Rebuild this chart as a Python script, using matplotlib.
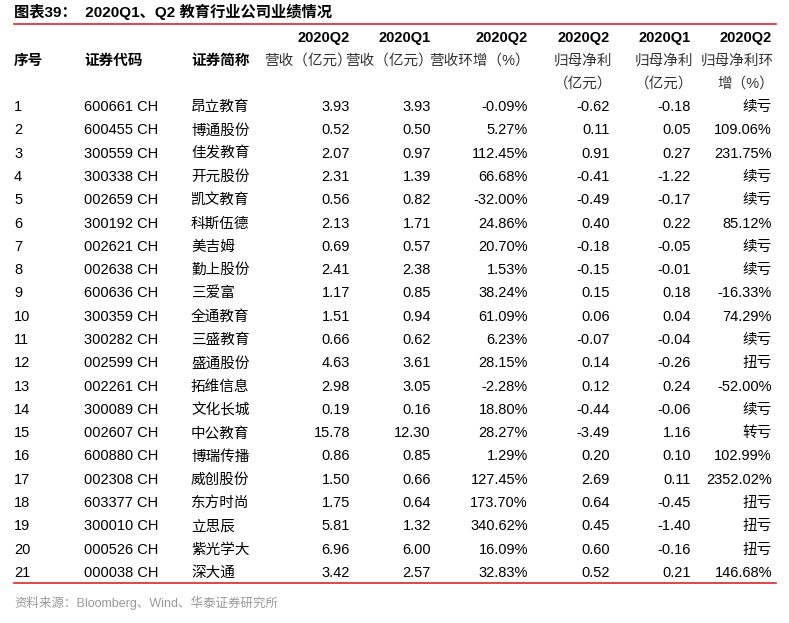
import matplotlib
matplotlib.use("Agg")
import matplotlib.pyplot as plt

FAM = ['Liberation Sans', 'Noto Sans CJK SC', 'DejaVu Sans']
plt.rcParams['font.family'] = FAM

seq = [str(i) for i in range(1, 22)]
codes = ["600661 CH","600455 CH","300559 CH","300338 CH","002659 CH","300192 CH","002621 CH",
         "002638 CH","600636 CH","300359 CH","300282 CH","002599 CH","002261 CH","300089 CH",
         "002607 CH","600880 CH","002308 CH","603377 CH","300010 CH","000526 CH","000038 CH"]
names = ["昂立教育","博通股份","佳发教育","开元股份","凯文教育","科斯伍德","美吉姆","勤上股份",
         "三爱富","全通教育","三盛教育","盛通股份","拓维信息","文化长城","中公教育","博瑞传播",
         "威创股份","东方时尚","立思辰","紫光学大","深大通"]
rev_q2 = ["3.93","0.52","2.07","2.31","0.56","2.13","0.69","2.41","1.17","1.51","0.66","4.63",
          "2.98","0.19","15.78","0.86","1.50","1.75","5.81","6.96","3.42"]
rev_q1 = ["3.93","0.50","0.97","1.39","0.82","1.71","0.57","2.38","0.85","0.94","0.62","3.61",
          "3.05","0.16","12.30","0.85","0.66","0.64","1.32","6.00","2.57"]
rev_qoq = ["-0.09%","5.27%","112.45%","66.68%","-32.00%","24.86%","20.70%","1.53%","38.24%",
           "61.09%","6.23%","28.15%","-2.28%","18.80%","28.27%","1.29%","127.45%","173.70%",
           "340.62%","16.09%","32.83%"]
np_q2 = ["-0.62","0.11","0.91","-0.41","-0.49","0.40","-0.18","-0.15","0.15","0.06","-0.07",
         "0.14","0.12","-0.44","-3.49","0.20","2.69","0.64","0.45","0.60","0.52"]
np_q1 = ["-0.18","0.05","0.27","-1.22","-0.17","0.22","-0.05","-0.01","0.18","0.04","-0.04",
         "-0.26","0.24","-0.06","1.16","0.10","0.11","-0.45","-1.40","-0.16","0.21"]
np_qoq = ["续亏","109.06%","231.75%","续亏","续亏","85.12%","续亏","续亏","-16.33%","74.29%",
          "续亏","扭亏","-52.00%","续亏","转亏","102.99%","2352.02%","扭亏","扭亏","扭亏","146.68%"]

fig = plt.figure(figsize=(7.89, 6.23), dpi=100)
ax = fig.add_axes([0, 0, 1, 1])
ax.set_xlim(0, 789); ax.set_ylim(623, 0); ax.axis('off')

fs = 10.5
ax.text(14, 12, "图表39：  2020Q1、Q2 教育行业公司业绩情况", fontsize=11, fontweight='bold', va='center', ha='left')
ax.plot([14, 776], [24, 24], color='#d9262c', lw=1.2)
ax.plot([14, 776], [583, 583], color='#d9262c', lw=1.2)

rights = [350, 431, 528, 610, 691, 772]
top = ["2020Q2", "2020Q1", "2020Q2", "2020Q2", "2020Q1", "2020Q2"]
mid = ["营收（亿元）", "营收（亿元）", "营收环增（%）", "归母净利", "归母净利", "归母净利环"]
bot = ["", "", "", "（亿元）", "（亿元）", "增（%）"]
for r, a, b, c in zip(rights, top, mid, bot):
    ax.text(r, 38, a, fontsize=fs, fontweight='bold', ha='right', va='center')
    ax.text(r + 2, 61, b, fontsize=fs, ha='right', va='center', color='#333333')
    if c:
        ax.text(r + 2, 84, c, fontsize=fs, ha='right', va='center', color='#333333')
for x, t in [(14, "序号"), (84, "证券代码"), (191, "证券简称")]:
    ax.text(x, 61, t, fontsize=fs, fontweight='bold', ha='left', va='center')

y0, dy = 107, 23.3
for i in range(21):
    y = y0 + i * dy
    ax.text(14, y, seq[i], fontsize=fs, ha='left', va='center')
    ax.text(84, y, codes[i], fontsize=fs, ha='left', va='center')
    ax.text(191, y, names[i], fontsize=fs, ha='left', va='center')
    for r, col in zip(rights, [rev_q2, rev_q1, rev_qoq, np_q2, np_q1, np_qoq]):
        ax.text(r, y, col[i], fontsize=fs, ha='right', va='center')

ax.text(14, 603, "资料来源：Bloomberg、Wind、华泰证券研究所", fontsize=9, ha='left', va='center', color='#999999')
fig.savefig("out.png", dpi=100, facecolor='white')
